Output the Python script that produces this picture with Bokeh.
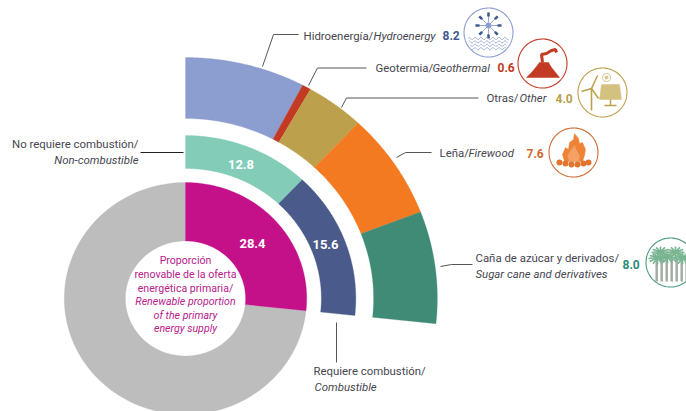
import numpy as np
from bokeh.plotting import figure
from bokeh.models import Range1d
from bokeh.core.properties import value
from bokeh.embed import file_html
from bokeh.resources import INLINE

# ---- data ----
outer_labels = ["Hidroenergía", "Geotermia", "Otras", "Leña", "Caña de azúcar y derivados"]
outer_values = [8.2, 0.6, 4.0, 7.6, 8.0]
middle_labels = ["No requiere combustión", "Requiere combustión"]
middle_values = [12.8, 15.6]
renewable_share = 28.4
rest_share = 71.6

outer_colors = ["#8c9dd0", "#c23a24", "#bca04b", "#f47a21", "#3f8b75"]
middle_colors = ["#83cdb8", "#4a5b8b"]
share_colors = ["#c4118a", "#bdbdbd"]

# ---- layout (reference pixels) ----
CX, CY, SX = 185.0, 298.0, 1.045
DEG_PER_UNIT = 96.0 / renewable_share
FONT = "Roboto"
TXT = "#46464f"

p = figure(width=686, height=411, output_backend="svg", toolbar_location=None,
           x_range=Range1d(0, 686), y_range=Range1d(411, 0),
           x_axis_type=None, y_axis_type=None, min_border=0, outline_line_color=None)
p.grid.visible = False


def sector(a0, a1, r0, r1, color):
    t = np.radians(np.linspace(a0, a1, 120))
    xs = np.r_[CX + SX * r1 * np.sin(t), CX + SX * r0 * np.sin(t[::-1])]
    ys = np.r_[CY - r1 * np.cos(t), CY - r0 * np.cos(t[::-1])]
    p.patch(xs, ys, fill_color=color, line_color=color, line_width=0.3)


def ring(values, colors, r0, r1):
    a = 0.0
    for v, c in zip(values, colors):
        sector(a, a + v * DEG_PER_UNIT, r0, r1, c)
        a += v * DEG_PER_UNIT


ring(outer_values, outer_colors, 180, 241)
ring(middle_values, middle_colors, 130, 163)
end = renewable_share * DEG_PER_UNIT
sector(end, 360, 57.5, 116, share_colors[1])
sector(0, end, 57.5, 116, share_colors[0])


def text(x, y, s, size=11.4, color=TXT, style="normal", align="left"):
    p.text([x], [y], text=[s], text_font=value(FONT), text_font_size=f"{size}px",
           text_color=color, text_font_style=style, text_align=align, text_baseline="middle")


def leader(xs, ys, color="#55555c"):
    p.line(xs, ys, line_color=color, line_width=1)


leader([262, 273, 298], [66, 34, 34])
leader([308, 317, 366], [85, 67.5, 67.5])
leader([341, 346, 478], [107, 97.5, 97.5])
leader([396, 405, 431], [157, 152, 152])
leader([440, 451, 472], [266, 264, 264])
leader([336, 336], [322, 362])
leader([140, 183], [152, 152], "#222222")

text(303, 35, "Hidroenergía/")
text(373, 35, "Hydroenergy", style="italic")
text(442, 35, f"{outer_values[0]:.1f}", size=12, color="#3f5a90", style="bold")
text(375, 67, "Geotermia/")
text(432, 67, "Geothermal", style="italic")
text(497, 67, f"{outer_values[1]:.1f}", size=12, color="#c23a24", style="bold")
text(486, 97.5, "Otras/")
text(519, 97.5, "Other", style="italic")
text(555, 97.5, f"{outer_values[2]:.1f}", size=12, color="#b9a04a", style="bold")
text(439, 152.5, "Leña/")
text(468, 152.5, "Firewood", style="italic")
text(526, 152.5, f"{outer_values[3]:.1f}", size=12, color="#cf6a30", style="bold")
text(475, 257, "Caña de azúcar y derivados/")
text(475, 273, "Sugar cane and derivatives", style="italic")
text(622, 263.5, f"{outer_values[4]:.1f}", size=12, color="#2f8a78", style="bold")
text(313, 370, "Requiere combustión/")
text(314, 386, "Combustible", style="italic")
text(138, 143, "No requiere combustión/", align="right")
text(138, 159, "Non-combustible", style="italic", align="right")

text(240.5, 163.5, f"{middle_values[0]:.1f}", size=13, color="white", style="bold", align="center")
text(325, 243.5, f"{middle_values[1]:.1f}", size=13, color="white", style="bold", align="center")
text(252, 242.5, f"{renewable_share:.1f}", size=13, color="white", style="bold", align="center")

MAG = "#b8208c"
for i, s in enumerate(["Proporción", "renovable de la oferta", "energética primaria/"]):
    text(185, 260 + 13.8 * i, s, size=10.6, color=MAG, align="center")
for i, s in enumerate(["Renewable proportion", "of the primary", "energy supply"]):
    text(185, 301 + 13.6 * i, s, size=10.6, color=MAG, style="italic", align="center")


# ---- icons ----
def badge(cx, cy, color, r=24.5):
    t = np.linspace(0, 2 * np.pi, 100)
    p.line(cx + r * np.cos(t), cy + r * np.sin(t), line_color=color, line_width=1.1)


def rel_patch(cx, cy, pts, color):
    a = np.array(pts, float)
    p.patch(cx + a[:, 0], cy + a[:, 1], fill_color=color, line_color=color, line_width=0.5)


def rel_line(cx, cy, pts, color, w=1.0):
    a = np.array(pts, float)
    p.line(cx + a[:, 0], cy + a[:, 1], line_color=color, line_width=w)


# hydro
hx, hy = 488, 32
badge(hx, hy, "#8c9dd0")
for a in range(0, 360, 45):
    c, s = np.cos(np.radians(a)), np.sin(np.radians(a))
    rel_line(hx, hy - 7, [(3 * c, 3 * s), (13 * c, 13 * s)], "#7f90c4", 0.8)
    rel_line(hx, hy - 7, [(9 * c, 9 * s), (13 * c, 13 * s)], "#3f5a90", 2.6)
p.scatter([hx], [hy - 7], size=6, fill_color="#8c9dd0", line_color=None)
for k in range(4):
    x = np.linspace(-20 + k, 20 - k, 50)
    rel_line(hx, hy + 6 + 3.4 * k, np.c_[x, 1.1 * np.sin(x * 1.05)], "#8c9dd0", 0.8)

# volcano
vx, vy = 542, 63
badge(vx, vy, "#c23a24")
rel_patch(vx, vy, [(-16, 14), (-11, 9), (-6, 3), (-3, -1), (6, -1), (9, 4), (13, 9), (17, 14)], "#c23a24")
rel_line(vx, vy, [(0, -1), (-1, -9), (4, -10), (9, -13), (13, -14), (14, -11)], "#c23a24", 3.0)

# wind + solar
wx, wy = 602, 92
OC = "#bca04b"
badge(wx, wy, OC)
rel_line(wx, wy, [(-11, -4), (-11, 18)], OC, 1.6)
rel_line(wx, wy, [(-11, -4), (-5, -17)], OC, 1.5)
rel_line(wx, wy, [(-11, -4), (-21, -1)], OC, 1.5)
rel_line(wx, wy, [(-11, -4), (-4, 6)], OC, 1.5)
rel_patch(wx, wy, [(-1, -8), (17, -8), (19, 7), (-3, 7)], "#d3c27f")
rel_line(wx, wy, [(8, 7), (8, 13)], OC, 1.4)
rel_line(wx, wy, [(2, 13), (14, 13)], OC, 1.4)
badge(wx + 4, wy - 15, "#dcd0a0", r=4)
p.scatter([wx + 4], [wy - 15], size=4, fill_color="#d9c88f", line_color=None)

# firewood
fx, fy = 573, 152
badge(fx, fy, "#cf6a30")
rel_patch(fx, fy, [(-9, 9), (-11, 2), (-8, -5), (-5, -3), (-4, -10), (0, -13), (1, -19), (5, -14),
                   (6, -9), (9, -10), (12, -3), (11, 3), (9, 9)], "#ee8236")
rel_patch(fx, fy, [(-4, 9), (-6, 3), (-2, -3), (1, -7), (3, -2), (6, 3), (5, 9)], "#f3a164")
for dx, dy in [(-14, 10), (-8, 11), (-2, 12), (4, 12), (10, 11), (15, 10)]:
    p.scatter([fx + dx], [fy + dy], size=6, fill_color="#e2752e", line_color=None)

# sugar cane
sx, sy = 670, 262
badge(sx, sy, "#4e9a86")
for dx in (-14, -9, -4, 1, 6, 11, 16):
    rel_line(sx, sy, [(dx, -5), (dx, 19)], "#a8b2a8", 2.2)
    rel_line(sx, sy, [(dx + 0.8, -5), (dx + 0.8, 19)], "#66736b", 0.4)
for tx, ty in [(-10, -11), (5, -11), (-3, -6), (-13, -5), (12, -5)]:
    for a in range(0, 360, 30):
        c, s = np.cos(np.radians(a)), np.sin(np.radians(a))
        rel_line(sx, sy, [(tx, ty), (tx + 9 * c, ty + 6 * s + 1)], "#79b592", 1.6)

open("out.html", "w").write(file_html(p, INLINE))
